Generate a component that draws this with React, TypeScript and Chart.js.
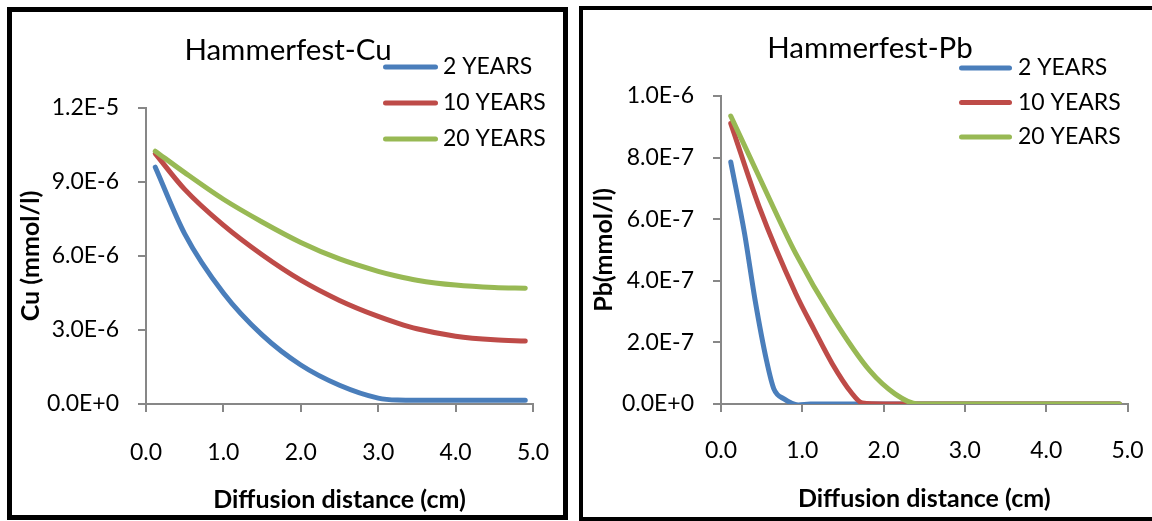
import React, { useEffect, useRef } from "react";
import { Chart, registerables } from "chart.js";

Chart.register(...registerables);

// ---------- data ----------
const seriesLabels = ["2 YEARS", "10 YEARS", "20 YEARS"];
const seriesColors = ["#4A7EBB", "#BE4B48", "#98B954"];

const xTicks = [0, 1, 2, 3, 4, 5];

// Cu chart
const cuDistance = [0.12, 0.5, 1.0, 1.5, 2.0, 2.5, 3.0, 3.25, 3.5, 4.0, 4.5, 4.9];
const cu2Years = [9.6e-6, 6.9e-6, 4.5e-6, 2.8e-6, 1.58e-6, 0.76e-6, 0.24e-6, 0.16e-6, 0.15e-6, 0.15e-6, 0.15e-6, 0.15e-6];
const cu10Years = [10.15e-6, 8.7e-6, 7.25e-6, 6.05e-6, 5.02e-6, 4.2e-6, 3.55e-6, 3.28e-6, 3.05e-6, 2.75e-6, 2.6e-6, 2.55e-6];
const cu20Years = [10.25e-6, 9.38e-6, 8.3e-6, 7.38e-6, 6.55e-6, 5.88e-6, 5.38e-6, 5.18e-6, 5.02e-6, 4.82e-6, 4.72e-6, 4.69e-6];
const cuYTicks = [0, 3e-6, 6e-6, 9e-6, 1.2e-5];

// Pb chart
const pb2Distance = [0.12, 0.29, 0.42, 0.56, 0.65, 0.78, 0.95, 1.1, 2.0, 3.0, 4.0, 4.9];
const pb2Years = [7.86e-7, 5.53e-7, 3.36e-7, 1.41e-7, 0.49e-7, 0.16e-7, -0.03e-7, 0, 0, 0, 0, 0];
const pb10Distance = [0.12, 0.47, 0.92, 1.15, 1.37, 1.6, 1.74, 2.0, 3.0, 4.0, 4.9];
const pb10Years = [9.11e-7, 6.4e-7, 3.58e-7, 2.39e-7, 1.3e-7, 0.38e-7, 0.03e-7, 0, 0, 0, 0];
const pb20Distance = [0.12, 0.47, 0.92, 1.37, 1.83, 2.14, 2.42, 3.0, 4.0, 4.9];
const pb20Years = [9.35e-7, 7.37e-7, 4.88e-7, 2.82e-7, 1.08e-7, 0.33e-7, 0, 0, 0, 0];
const pbYTicks = [0, 2e-7, 4e-7, 6e-7, 8e-7, 1e-6];

// ---------- helpers ----------
const FONT = "Lato";
const AXIS_GRAY = "#878787";

const overlayPlugin = {
  id: "overlay",
  afterDraw(chart: any, _args: any, opts: any) {
    const ctx = chart.ctx;
    ctx.save();
    ctx.fillStyle = "#000";
    ctx.textBaseline = "middle";
    ctx.textAlign = "center";
    ctx.font = `${opts.titleSize}px ${FONT}`;
    ctx.fillText(opts.title, opts.titleX, opts.titleY);
    chart.data.datasets.forEach((ds: any, i: number) => {
      const y = opts.legendY + i * opts.legendGap;
      ctx.strokeStyle = ds.borderColor;
      ctx.lineWidth = 5;
      ctx.lineCap = "round";
      ctx.beginPath();
      ctx.moveTo(opts.lineX0, y);
      ctx.lineTo(opts.lineX1, y);
      ctx.stroke();
      ctx.textAlign = "left";
      ctx.font = `${opts.legendSize}px ${FONT}`;
      ctx.fillText(ds.label, opts.textX, y);
    });
    ctx.restore();
  },
};

function makeDataset(i: number, xs: number[], ys: number[]) {
  return {
    label: seriesLabels[i],
    data: xs.map((x, k) => ({ x, y: ys[k] })),
    borderColor: seriesColors[i],
    backgroundColor: seriesColors[i],
    borderWidth: 5,
    borderCapStyle: "round",
    borderJoinStyle: "round",
    pointRadius: 0,
    showLine: true,
    tension: 0.4,
    cubicInterpolationMode: "monotone",
    order: 3 - i,
  };
}

function makeConfig(p: any) {
  return {
    type: "scatter",
    data: { datasets: p.datasets },
    plugins: [overlayPlugin],
    options: {
      responsive: false,
      animation: false,
      events: [],
      layout: { padding: { left: 0, top: p.areaTop, right: p.padRight, bottom: 0 } },
      plugins: {
        legend: { display: false },
        title: { display: false },
        tooltip: { enabled: false },
        overlay: p.overlay,
      },
      scales: {
        x: {
          type: "linear",
          min: 0,
          max: 5,
          afterBuildTicks: (s: any) => {
            s.ticks = xTicks.map((v) => ({ value: v }));
          },
          afterFit: (s: any) => {
            s.height = p.xHeight;
            s.paddingLeft = 0;
            s.paddingRight = 0;
          },
          grid: {
            display: true,
            drawOnChartArea: false,
            drawTicks: true,
            tickLength: 8,
            color: AXIS_GRAY,
            lineWidth: 2,
          },
          border: { display: true, color: AXIS_GRAY, width: 2 },
          ticks: {
            padding: p.xTickPad,
            color: "#000",
            font: { family: FONT, size: 23, lineHeight: 1.2 },
            maxRotation: 0,
            autoSkip: false,
            callback: (v: any) => Number(v).toFixed(1),
          },
          title: {
            display: true,
            text: "Diffusion distance (cm)",
            color: "#000",
            font: { family: FONT, size: 25, weight: "bold", lineHeight: 1 },
            padding: { top: 0, bottom: p.xTitlePad },
          },
        },
        y: {
          type: "linear",
          min: 0,
          max: p.yMax,
          afterBuildTicks: (s: any) => {
            s.ticks = p.yTicks.map((v: number) => ({ value: v }));
          },
          afterFit: (s: any) => {
            s.width = p.yWidth;
            s.paddingTop = 0;
            s.paddingBottom = 0;
          },
          grid: {
            display: true,
            drawOnChartArea: false,
            drawTicks: true,
            tickLength: 8,
            color: AXIS_GRAY,
            lineWidth: 2,
          },
          border: { display: true, color: AXIS_GRAY, width: 2 },
          ticks: {
            padding: 19,
            color: "#000",
            font: { family: FONT, size: 23 },
            autoSkip: false,
            callback: (v: any) => Number(v).toExponential(1).toUpperCase(),
          },
          title: {
            display: true,
            text: p.yTitle,
            color: "#000",
            font: { family: FONT, size: 25, weight: "bold", lineHeight: 1 },
            padding: { top: p.yTitlePad, bottom: 0 },
          },
        },
      },
    },
  };
}

function ChartCanvas({ config, width, height }: { config: any; width: number; height: number }) {
  const ref = useRef<HTMLCanvasElement | null>(null);
  useEffect(() => {
    if (!ref.current) return;
    const chart = new Chart(ref.current, config);
    return () => chart.destroy();
  }, [config]);
  return (
    <canvas
      ref={ref}
      width={width}
      height={height}
      style={{ display: "block", width: width + "px", height: height + "px" }}
    />
  );
}

const cuConfig = makeConfig({
  datasets: [
    makeDataset(0, cuDistance, cu2Years),
    makeDataset(1, cuDistance, cu10Years),
    makeDataset(2, cuDistance, cu20Years),
  ],
  areaTop: 96,
  padRight: 30,
  xHeight: 111,
  xTickPad: 27,
  xTitlePad: 2.5,
  yWidth: 134,
  yTitlePad: 6.5,
  yMax: 1.2e-5,
  yTicks: cuYTicks,
  yTitle: "Cu (mmol/l)",
  overlay: {
    title: "Hammerfest-Cu",
    titleSize: 29.5,
    titleX: 276,
    titleY: 38,
    legendY: 55,
    legendGap: 36,
    lineX0: 373.5,
    lineX1: 423.5,
    textX: 431,
    legendSize: 23,
  },
});

const pbConfig = makeConfig({
  datasets: [
    makeDataset(0, pb2Distance, pb2Years),
    makeDataset(1, pb10Distance, pb10Years),
    makeDataset(2, pb20Distance, pb20Years),
  ],
  areaTop: 86,
  padRight: 24.5,
  xHeight: 113,
  xTickPad: 25,
  xTitlePad: 5.5,
  yWidth: 138,
  yTitlePad: 8.5,
  yMax: 1e-6,
  yTicks: pbYTicks,
  yTitle: "Pb(mmol/l)",
  overlay: {
    title: "Hammerfest-Pb",
    titleSize: 29.5,
    titleX: 287,
    titleY: 38,
    legendY: 58,
    legendGap: 34.5,
    lineX0: 378.5,
    lineX1: 426.5,
    textX: 435,
    legendSize: 23,
  },
});

export default function App() {
  return (
    <div
      style={{
        position: "fixed",
        left: 0,
        top: 0,
        width: "1152px",
        height: "521px",
        overflow: "hidden",
        background: "#fff",
      }}
    >
      <div
        style={{
          position: "absolute",
          left: "7px",
          top: "7px",
          width: "561px",
          height: "513px",
          border: "5px solid #000",
          boxSizing: "border-box",
          overflow: "hidden",
        }}
      >
        <ChartCanvas config={cuConfig} width={551} height={503} />
      </div>
      <div
        style={{
          position: "absolute",
          left: "579px",
          top: "6px",
          width: "620px",
          height: "515px",
          border: "4px solid #000",
          boxSizing: "border-box",
          overflow: "hidden",
        }}
      >
        <ChartCanvas config={pbConfig} width={569} height={507} />
      </div>
    </div>
  );
}
